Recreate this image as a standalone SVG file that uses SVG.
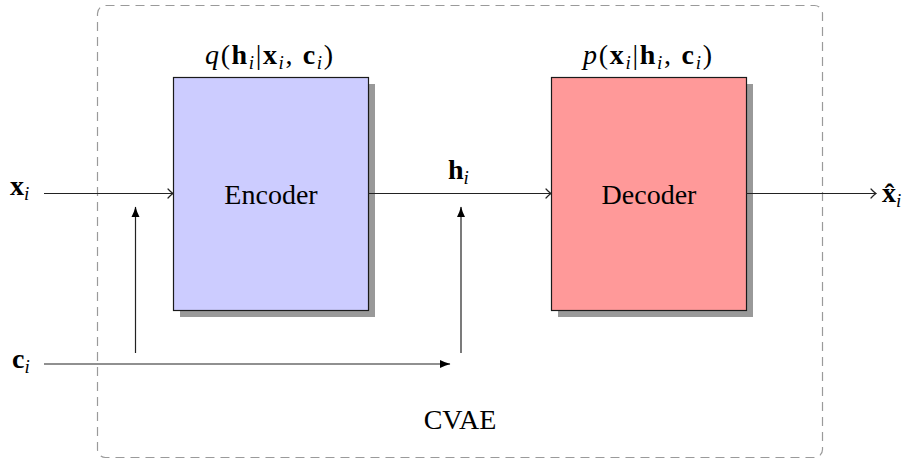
<svg xmlns="http://www.w3.org/2000/svg" width="908" height="462" viewBox="0 0 908 462">
  <style>
    text { font-family: "Liberation Serif", "Times New Roman", serif; fill: #000; }
    .lbl { font-size: 28px; }
    .b { font-weight: bold; }
    .it { font-style: italic; }
    .sub { font-size: 19px; font-style: italic; font-weight: normal; }
    .frame { fill: none; stroke: #9a9a9a; stroke-width: 1.2; stroke-dasharray: 9 6; }
    .shadow { fill: #999999; }
    .box { stroke: #1a1a1a; stroke-width: 1.2; }
    .wire { fill: none; stroke: #222; stroke-width: 1.2; }
  </style>
  <defs>
    <marker id="open" markerUnits="userSpaceOnUse" markerWidth="12" markerHeight="12" viewBox="-8 -6 10 12" refX="0" refY="0" orient="auto">
      <path d="M-5,-4.5 Q-2,-1.2 0,0 Q-2,1.2 -5,4.5" fill="none" stroke="#222" stroke-width="1.2" stroke-linecap="round"/>
    </marker>
    <marker id="solid" markerUnits="userSpaceOnUse" markerWidth="14" markerHeight="12" viewBox="-11 -6 12 12" refX="0" refY="0" orient="auto">
      <path d="M0.5,0 Q-5,-1.4 -10,-4 L-10,4 Q-5,1.4 0.5,0 Z" fill="#000"/>
    </marker>
  </defs>

  <!-- CVAE container -->
  <g id="cvae">
    <rect class="frame" x="97.5" y="5.5" width="725" height="452" rx="8" ry="8"/>
    <text class="lbl" x="460" y="429" text-anchor="middle">CVAE</text>
  </g>

  <!-- Encoder -->
  <g id="encoder">
    <rect class="shadow" x="180" y="84" width="195" height="233"/>
    <rect class="box" x="173.5" y="77.5" width="195" height="233" fill="#ccccff"/>
    <text class="lbl" x="271" y="204" text-anchor="middle">Encoder</text>
    <text class="lbl" x="205" y="64" textLength="128" lengthAdjust="spacing"><tspan class="it">q</tspan>(<tspan class="b">h</tspan><tspan class="sub" dy="5">i</tspan><tspan dy="-5">|</tspan><tspan class="b">x</tspan><tspan class="sub" dy="5">i</tspan><tspan dy="-5">, </tspan><tspan class="b">c</tspan><tspan class="sub" dy="5">i</tspan><tspan dy="-5">)</tspan></text>
  </g>

  <!-- Decoder -->
  <g id="decoder">
    <rect class="shadow" x="558" y="84" width="195" height="233"/>
    <rect class="box" x="551.5" y="77.5" width="195" height="233" fill="#ff9999"/>
    <text class="lbl" x="649" y="204" text-anchor="middle">Decoder</text>
    <text class="lbl" x="583" y="64" textLength="129" lengthAdjust="spacing"><tspan class="it">p</tspan>(<tspan class="b">x</tspan><tspan class="sub" dy="5">i</tspan><tspan dy="-5">|</tspan><tspan class="b">h</tspan><tspan class="sub" dy="5">i</tspan><tspan dy="-5">, </tspan><tspan class="b">c</tspan><tspan class="sub" dy="5">i</tspan><tspan dy="-5">)</tspan></text>
  </g>

  <!-- inputs and outputs -->
  <g id="input-x">
    <text class="lbl" x="10" y="195"><tspan class="b">x</tspan><tspan class="sub" dy="5">i</tspan></text>
  </g>
  <g id="input-c">
    <text class="lbl" x="12" y="368"><tspan class="b">c</tspan><tspan class="sub" dy="5">i</tspan></text>
  </g>
  <g id="latent-h">
    <text class="lbl" x="448" y="179"><tspan class="b">h</tspan><tspan class="sub" dy="5">i</tspan></text>
  </g>
  <g id="output-x">
    <text class="lbl" x="882" y="202"><tspan class="b">x̂</tspan><tspan class="sub" dy="5">i</tspan></text>
  </g>

  <!-- connectors -->
  <g id="connectors">
    <path class="wire" d="M44,193.5 H173" marker-end="url(#open)"/>
    <path class="wire" d="M368,193.5 H551" marker-end="url(#open)"/>
    <path class="wire" d="M746,193.5 H876" marker-end="url(#open)"/>
    <path class="wire" d="M44,364 H450" marker-end="url(#solid)"/>
    <path class="wire" d="M135.5,353 V207" marker-end="url(#solid)"/>
    <path class="wire" d="M461,353 V207" marker-end="url(#solid)"/>
  </g>
</svg>
